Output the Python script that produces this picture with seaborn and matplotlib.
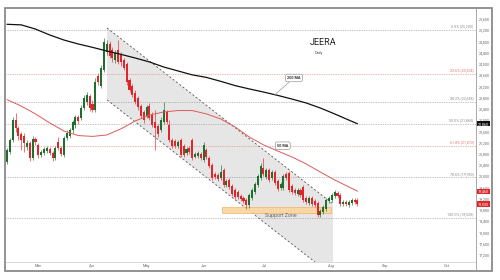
import matplotlib
matplotlib.use("Agg")
import matplotlib.pyplot as plt
import seaborn as sns
import numpy as np
import pandas as pd
from matplotlib.patches import Rectangle, Polygon

# ---------------- data ----------------
opens = [20500,20860,21280,22000,21710,21500,21430,21030,21180,20640,
         21320,21110,20750,20820,20890,20960,20820,20640,21210,21000,
         20750,21350,21430,21640,21820,22100,22070,22420,22640,22850,
         22560,22350,23560,23200,23770,24410,24700,24490,24130,24490,
         24340,24130,23990,23420,23200,22960,22780,22490,22280,22140,
         22490,22170,21920,21780,21640,21920,22280,21820,21280,21250,
         21070,21280,21070,20820,21000,21280,20680,20710,20790,20570,
         20930,20640,20390,20070,20040,19930,20220,19680,19860,19650,
         19500,19430,19290,19220,19150,18970,19220,19430,19680,19930,
         20290,19970,20220,19930,20140,19820,19570,19570,20070,20110,
         19650,19500,19360,19500,19610,19220,19040,19220,19110,19040,
         18610,18720,18830,19110,19150,19290,19400,19330,19000,19080,
         18970,19040,19150,19150]
closes = [20930,21280,22000,21710,21430,21280,21180,21180,20640,21320,
          21210,20750,20860,20960,21000,20820,20640,21000,21000,20790,
          21350,21530,21640,21920,22100,21960,22420,22780,22880,22420,
          22350,23350,23350,23850,24770,24700,24270,24200,24380,24060,
          24060,23850,23350,23060,22880,22640,22460,22140,22000,22460,
          22070,21820,21710,21500,22000,22350,21920,21280,21070,21070,
          21210,20750,20750,20960,20860,20640,20790,20820,20640,21110,
          20680,20360,19930,19970,19900,20140,19680,19820,19610,19360,
          19250,19250,19180,19110,18970,19330,19500,19720,20000,20360,
          20070,20220,19860,20140,19750,19540,19720,20000,19930,19500,
          19430,19400,19500,19330,19150,19080,19220,19000,18970,18610,
          18760,18900,19150,19220,19330,19430,19290,19000,19080,19000,
          19080,19150,19080,19000]
highs = [21000,21350,22100,22240,21780,21570,21530,21280,21250,21430,
         21390,21180,20930,21030,21070,21030,20890,21070,21390,21070,
         21430,21640,21710,21990,22170,22170,22530,22880,22990,22920,
         22710,23490,23670,23950,24910,24840,24810,24590,24490,24840,
         24410,24200,24060,23490,23280,23060,22850,22560,22350,22530,
         22600,22280,22350,21850,22100,22640,22350,22000,21350,21320,
         21280,21350,21140,21030,21070,21350,20860,20890,20860,21210,
         21000,20710,20460,20140,20110,20390,20290,19900,19930,19720,
         19570,19500,19360,19290,19220,19400,19570,19790,20070,20460,
         20640,20290,20290,20220,20220,19900,19790,20070,20140,20180,
         19720,19570,19570,19570,19680,19290,19290,19290,19180,19110,
         18830,18970,19220,19290,19400,19500,19470,19400,19150,19150,
         19150,19220,19220,19220]
lows = [20430,20790,21210,21570,21280,20930,20860,20930,20540,20570,
        21110,20640,20680,20750,20820,20750,20540,20570,20930,20710,
        20680,21280,21350,21530,21710,21850,21990,22350,22530,22320,
        22280,22280,23240,23130,23700,24310,24200,24060,24020,23990,
        23920,23770,23240,22990,22810,22560,22350,22070,21890,22070,
        22000,21750,20930,21390,21570,21850,21850,21210,21000,21000,
        21000,20680,20680,20750,20790,20570,20640,20640,20570,20500,
        20610,20290,19860,19900,19820,19860,19610,19610,19540,19290,
        19180,19180,19110,19040,18830,18860,19150,19360,19610,19860,
        20000,19900,19790,19860,19680,19470,19500,19500,19860,19430,
        19360,19330,19290,19250,19080,19000,18970,18930,18900,18540,
        18540,18650,18760,19040,19080,19220,19220,18930,18930,18930,
        18900,18970,19000,18930]

ma_idx = [0,5,10,15,20,25,30,35,40,45,50,55,60,65,70,75,80,85,90,95,100,105,110,115,120,123]
ma200 = [25400,25380,25230,25020,24840,24700,24580,24450,24330,24200,24060,23880,23740,
         23600,23510,23370,23220,23100,22990,22870,22740,22600,22420,22210,21990,21860]
ma50 = [22720,22490,22210,21890,21600,21440,21410,21460,21680,21960,22170,22280,22330,
        22330,22210,22030,21750,21390,21110,20890,20680,20430,20140,19860,19610,19460]

fib_levels = [25200, 23624, 22648, 21860, 21072, 19950, 18520]
fib_labels = ["0.0% (25,200)", "23.6% (23,624)", "38.2% (22,648)", "50.0% (21,860)",
              "61.8% (21,072)", "78.6% (19,950)", "100.0% (18,520)"]
fib_colors = ["#8a8a8a", "#e07070", "#8a8a8a", "#8a8a8a", "#e07070", "#8a8a8a", "#8a8a8a"]

month_labels = ["Mar", "Apr", "May", "Jun", "Jul", "Aug", "Sep", "Oct"]
month_pos = [10.9, 29.8, 48.8, 69.1, 90.5, 113.7, 132.6, 154.4]
price_ticks = list(range(17200, 25601, 400))

channel_x = [35.1, 114.4]
channel_top = [25270, 19010]
channel_bottom = [22710, 16440]
support_x = [75.4, 113.7]
support_y = [18700, 18910]

# ---------------- figure ----------------
sns.set_theme(style="white")
plt.rcParams["font.family"] = ["Roboto", "DejaVu Sans"]

fig = plt.figure(figsize=(5, 2.8), dpi=100)
ax = fig.add_axes([0.012, 0.0643, 0.94, 0.9036])
ax.set_facecolor("white")

df = pd.DataFrame({"open": opens, "close": closes, "high": highs, "low": lows})
df["idx"] = np.arange(len(df))
up = df["close"] >= df["open"]
colors = np.where(up, "#1f6e2e", "#e0262b")

# channel
ax.add_patch(Polygon([(channel_x[0], channel_top[0]), (channel_x[1], channel_top[1]),
                      (channel_x[1], channel_bottom[1]), (channel_x[0], channel_bottom[0])],
                     closed=True, fc="#e6e6e6", ec="none", zorder=0.5))
ax.plot(channel_x, channel_top, color="#555555", lw=0.6, ls=(0, (2.5, 2.5)), zorder=1)
ax.plot(channel_x, channel_bottom, color="#555555", lw=0.6, ls=(0, (2.5, 2.5)), zorder=1)

# fib levels
for lvl, lab, c in zip(fib_levels, fib_labels, fib_colors):
    ax.axhline(lvl, color=c, lw=0.5, ls=(0, (1, 1.5)), zorder=1.2)
    ax.text(0.995, lvl + 60, lab, transform=ax.get_yaxis_transform(), ha="right",
            va="bottom", fontsize=2.6, color=c)

# support zone
ax.add_patch(Rectangle((support_x[0], support_y[0]), support_x[1] - support_x[0],
                       support_y[1] - support_y[0], fc="#fbd6a2", ec="#f0b063",
                       lw=0.5, alpha=0.95, zorder=1.5))
ax.text((support_x[0] + support_x[1]) / 2 + 1.5, support_y[0] - 120, "Support Zone",
        fontsize=3.8, color="#666666", ha="center", va="center", zorder=6)

# candles
body_lo = np.minimum(df["open"], df["close"])
body_h = np.maximum(np.abs(df["close"] - df["open"]), 20)
ax.vlines(df["idx"], df["low"], df["high"], colors=colors, lw=0.45, zorder=3)
ax.bar(df["idx"], body_h, bottom=body_lo, width=0.72, color=colors, zorder=3.1, linewidth=0)

# moving averages
sns.lineplot(x=ma_idx, y=ma200, ax=ax, color="#111111", lw=0.9, zorder=4)
sns.lineplot(x=ma_idx, y=ma50, ax=ax, color="#e05a5a", lw=0.7, zorder=4)

# labels for MAs
bb = dict(boxstyle="round,pad=0.45", fc="white", ec="#9a9a9a", lw=0.5)
ap = dict(arrowstyle="-", color="#9a9a9a", lw=0.5, shrinkA=0, shrinkB=0)
ax.annotate("200 MA", xy=(94, np.interp(94, ma_idx, ma200)), xytext=(100.7, 23490),
            fontsize=2.8, ha="center", va="center", color="#333333", bbox=bb,
            arrowprops=ap, zorder=6, fontweight="bold")
ax.annotate("50 MA", xy=(94, np.interp(94, ma_idx, ma50)), xytext=(96.8, 21080),
            fontsize=2.8, ha="center", va="center", color="#333333", bbox=bb,
            arrowprops=ap, zorder=6, fontweight="bold")

# title
fig.text(0.646, 0.848, "JEERA", fontsize=6.5, ha="center", va="center", color="#222222")
fig.text(0.637, 0.81, "Daily", fontsize=2.8, ha="center", va="center", color="#555555")

# axes
ax.set_xlim(-0.35, 164.6)
ax.set_ylim(16940, 25945)
ax.yaxis.tick_right()
ax.set_yticks(price_ticks)
ax.set_yticklabels([f"{v:,}" for v in price_ticks], fontsize=2.6, color="#666666")
ax.set_xticks(month_pos)
ax.set_xticklabels(month_labels, fontsize=2.8, color="#666666")
ax.tick_params(axis="both", length=0, pad=1.8)
for s in ["left", "top"]:
    ax.spines[s].set_visible(False)
ax.spines["right"].set_color("#9a9a9a")
ax.spines["right"].set_linewidth(0.6)
ax.spines["bottom"].set_color("#d5d5d5")
ax.spines["bottom"].set_linewidth(0.6)
ax.set_xlabel("")
ax.set_ylabel("")

# current value tags
tags = [(ma200[-1], "#111111"), (ma50[-1], "#e0262b"), (closes[-1], "#e0262b")]
for v, c in tags:
    ax.text(1.004, v, f"{v:,}", transform=ax.get_yaxis_transform(), ha="left", va="center",
            fontsize=2.6, color="white",
            bbox=dict(boxstyle="square,pad=0.18", fc=c, ec="none"), zorder=7, clip_on=False)

# frame
fig.add_artist(Rectangle((5 / 500, (280 - 271) / 280), 487 / 500, 263 / 280,
                         transform=fig.transFigure, fill=False, ec="#8a8a8a", lw=1.3))
fig.add_artist(plt.Line2D([476 / 500, 476 / 500], [(280 - 271) / 280, (280 - 262) / 280],
                          transform=fig.transFigure, color="#9a9a9a", lw=0.6))

fig.savefig("out.png", dpi=100)
